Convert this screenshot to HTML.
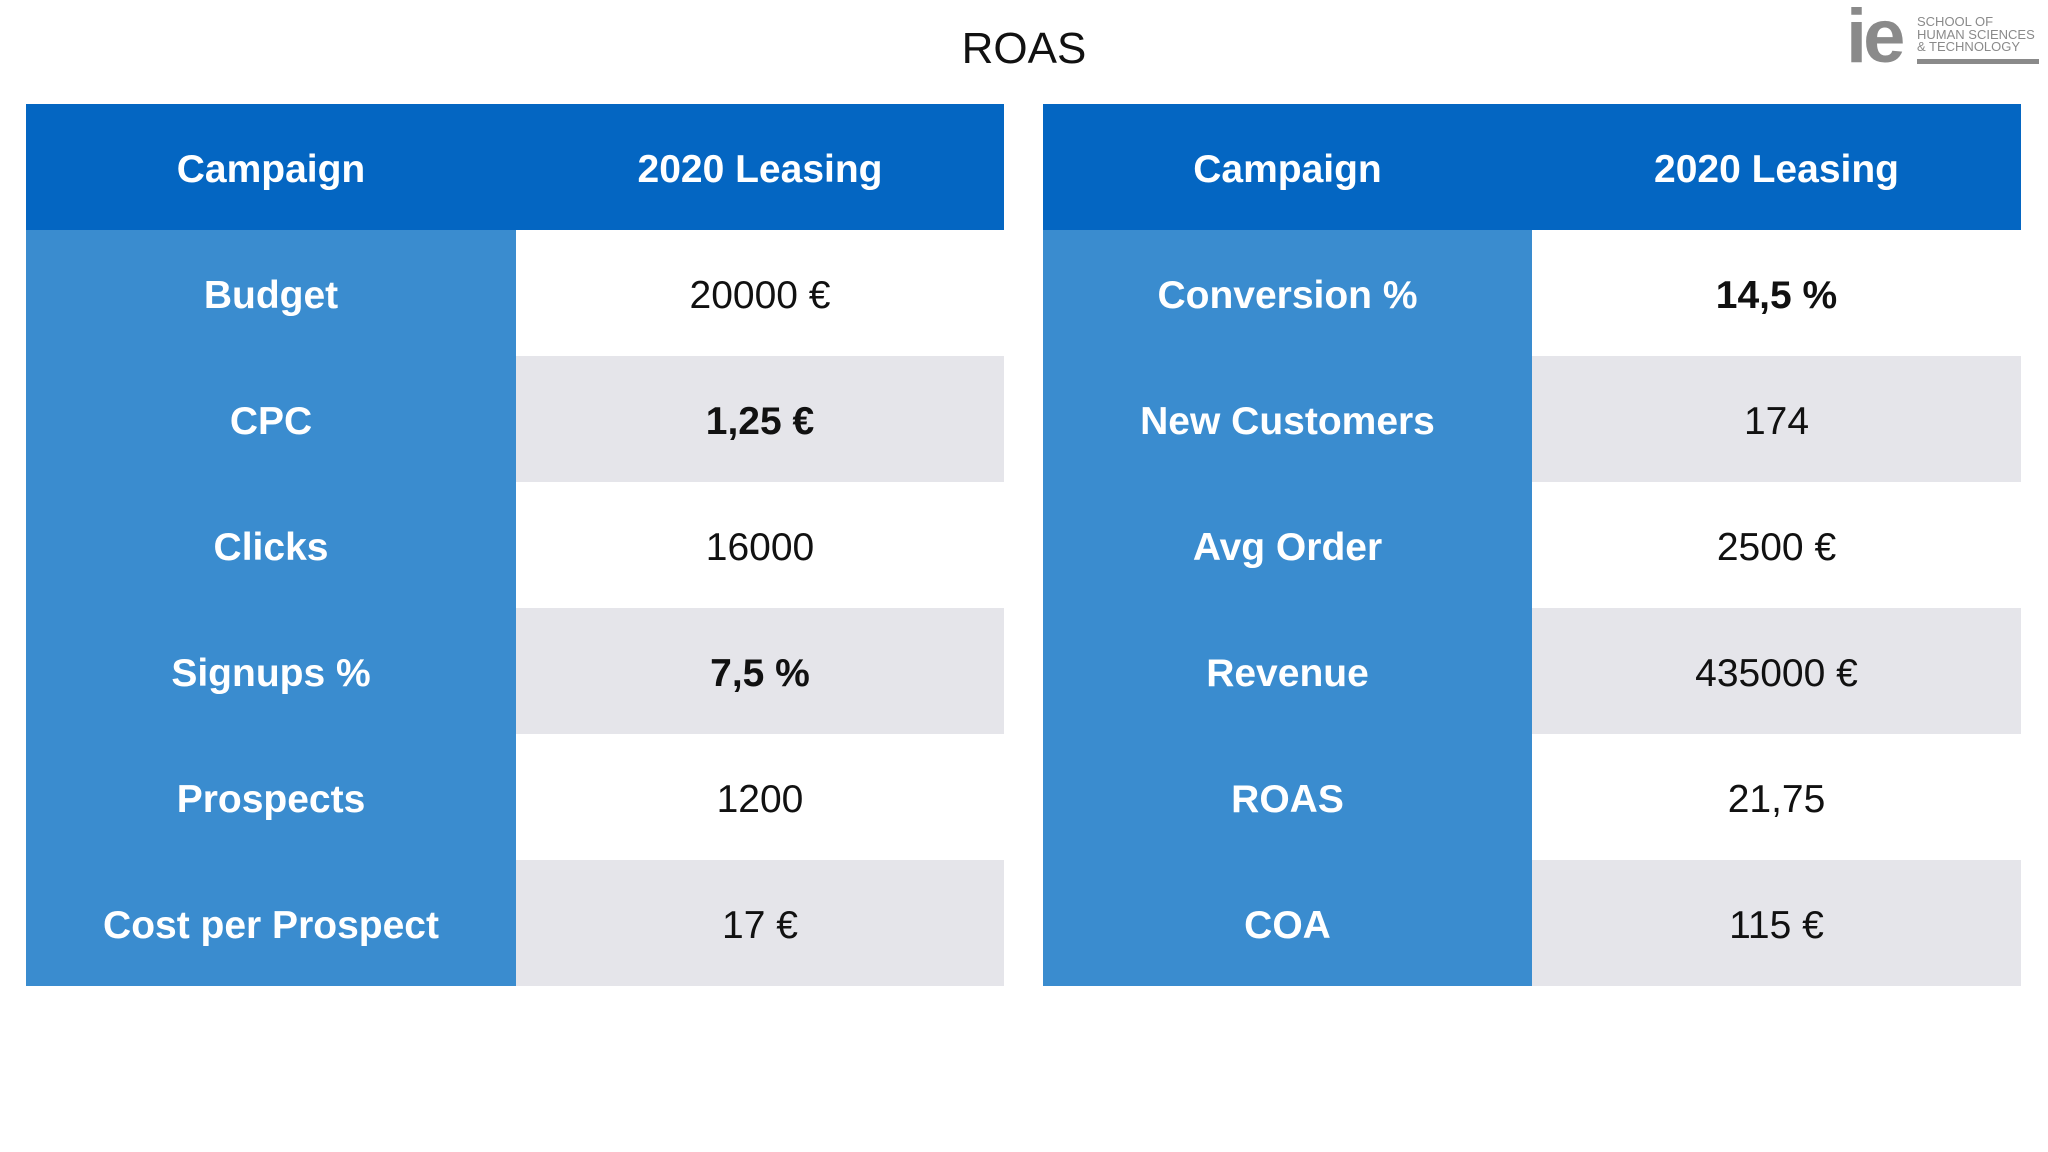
<!DOCTYPE html>
<html><head><meta charset="utf-8"><style>
body{margin:0;width:2048px;height:1152px;background:#fff;position:relative;overflow:hidden;font-family:"Liberation Sans",Arial,sans-serif}
.title{position:absolute;left:0;width:2048px;top:24px;text-align:center;font-size:44px;color:#111}
.tbl{position:absolute;top:104px;width:978px;border-collapse:collapse;table-layout:fixed}
.tbl td,.tbl th{height:126px;padding:6px 0 0 0;box-sizing:border-box;text-align:center;font-size:39px}
.tbl th{background:#0466c2;color:#fff;font-weight:bold}
.tbl td.l{background:#3a8ccf;color:#fff;font-weight:bold}
.tbl td.v{color:#111}
.tbl tr:nth-child(odd) td.v{background:#e5e5ea}
.tbl tr:nth-child(even) td.v{background:#fff}
.b{font-weight:bold}
</style></head><body>
<div class="title">ROAS</div>
<div style="position:absolute;left:1846px;top:0;width:200px;height:70px;color:#8a8a8a">
 <div style="position:absolute;left:0;top:-1px;font-size:76px;font-weight:bold;letter-spacing:-4px;line-height:76px">ie</div>
 <div style="position:absolute;left:71px;top:16px;font-size:13px;line-height:12.5px;white-space:nowrap">SCHOOL OF<br>HUMAN SCIENCES<br>&amp; TECHNOLOGY</div>
 <div style="position:absolute;left:71px;top:59px;width:122px;height:5px;background:#8a8a8a"></div>
</div>
<table class="tbl" style="left:26px">
<colgroup><col style="width:490px"><col style="width:488px"></colgroup>
<tr><th>Campaign</th><th>2020 Leasing</th></tr>
<tr><td class="l">Budget</td><td class="v">20000 €</td></tr>
<tr><td class="l">CPC</td><td class="v b">1,25 €</td></tr>
<tr><td class="l">Clicks</td><td class="v">16000</td></tr>
<tr><td class="l">Signups %</td><td class="v b">7,5 %</td></tr>
<tr><td class="l">Prospects</td><td class="v">1200</td></tr>
<tr><td class="l">Cost per Prospect</td><td class="v">17 €</td></tr>
</table>
<table class="tbl" style="left:1043px">
<colgroup><col style="width:489px"><col style="width:489px"></colgroup>
<tr><th>Campaign</th><th>2020 Leasing</th></tr>
<tr><td class="l">Conversion %</td><td class="v b">14,5 %</td></tr>
<tr><td class="l">New Customers</td><td class="v">174</td></tr>
<tr><td class="l">Avg Order</td><td class="v">2500 €</td></tr>
<tr><td class="l">Revenue</td><td class="v">435000 €</td></tr>
<tr><td class="l">ROAS</td><td class="v">21,75</td></tr>
<tr><td class="l">COA</td><td class="v">115 €</td></tr>
</table>
</body></html>
